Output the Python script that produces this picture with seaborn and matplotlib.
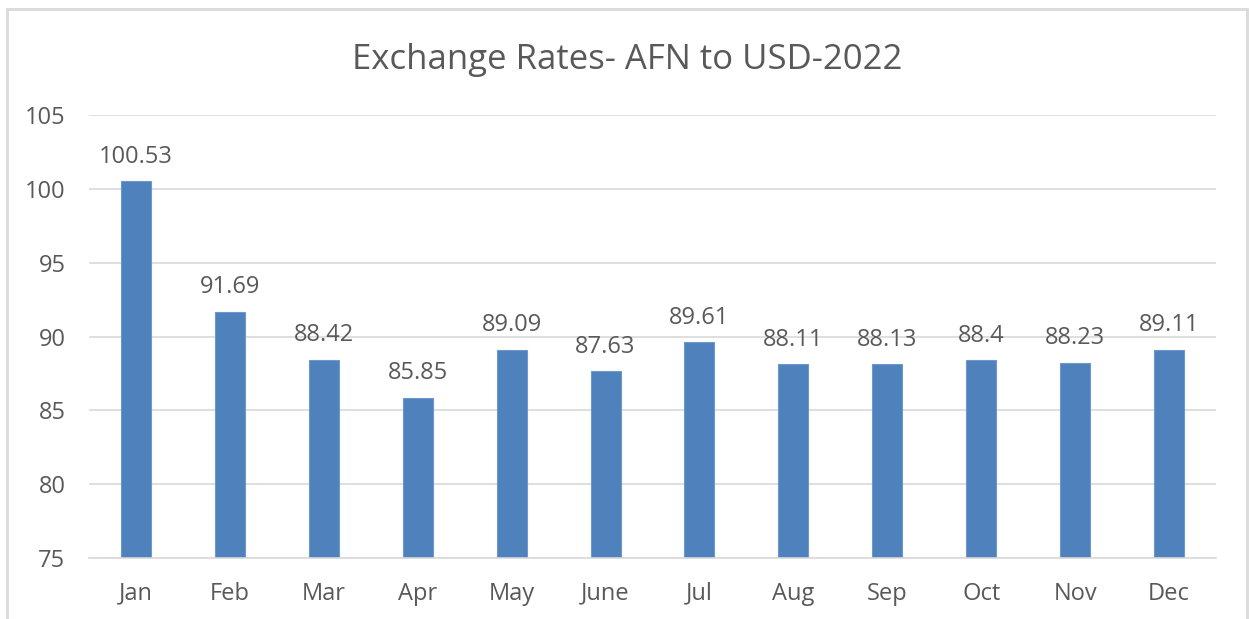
import matplotlib
matplotlib.use("Agg")
import matplotlib.pyplot as plt
import seaborn as sns
import pandas as pd
from matplotlib.patches import Rectangle

months = ["Jan", "Feb", "Mar", "Apr", "May", "June", "Jul", "Aug", "Sep", "Oct", "Nov", "Dec"]
rates = [100.53, 91.69, 88.42, 85.85, 89.09, 87.63, 89.61, 88.11, 88.13, 88.4, 88.23, 89.11]
labels = ["100.53", "91.69", "88.42", "85.85", "89.09", "87.63", "89.61", "88.11", "88.13", "88.4", "88.23", "89.11"]
yticks = [75, 80, 85, 90, 95, 100, 105]
title = "Exchange Rates- AFN to USD-2022"

sns.set_theme(style="white")
plt.rcParams["font.family"] = ["Open Sans", "DejaVu Sans"]

txt = "#595959"
df = pd.DataFrame({"Month": months, "Rate": rates})

fig = plt.figure(figsize=(12.49, 6.19), dpi=100)
ax = fig.add_axes([89/1249, 1-558/619, (1216-89)/1249, (558-115)/619])

sns.barplot(data=df, x="Month", y="Rate", color="#4F81BD", saturation=1,
            width=0.32, ax=ax, edgecolor="#6E97CC", linewidth=0.8)

ax.set_ylim(75, 105)
ax.set_yticks(yticks)
ax.set_yticklabels([str(v) for v in yticks])
ax.yaxis.grid(True, color="#D9D9D9", linewidth=1.2)
ax.set_axisbelow(True)
for s in ["left", "right", "top"]:
    ax.spines[s].set_visible(False)
ax.spines["bottom"].set_color("#D9D9D9")
ax.spines["bottom"].set_linewidth(1.2)
ax.tick_params(axis="both", length=0, colors=txt, labelsize=17)
ax.tick_params(axis="x", pad=17)
ax.tick_params(axis="y", pad=17)
ax.set_xlabel("")
ax.set_ylabel("")

ax.bar_label(ax.containers[0], labels=labels, padding=9, color=txt, fontsize=17)

fig.text(0.502, 1-60/619, title, ha="center", va="center", fontsize=25, color=txt)

fig.patches.append(Rectangle((7/1249, -0.01), (1247-7)/1249, 1-9/619+0.01,
                             transform=fig.transFigure, fill=False,
                             edgecolor="#D9D9D9", linewidth=2))

fig.savefig("out.png", dpi=100, facecolor="white")
